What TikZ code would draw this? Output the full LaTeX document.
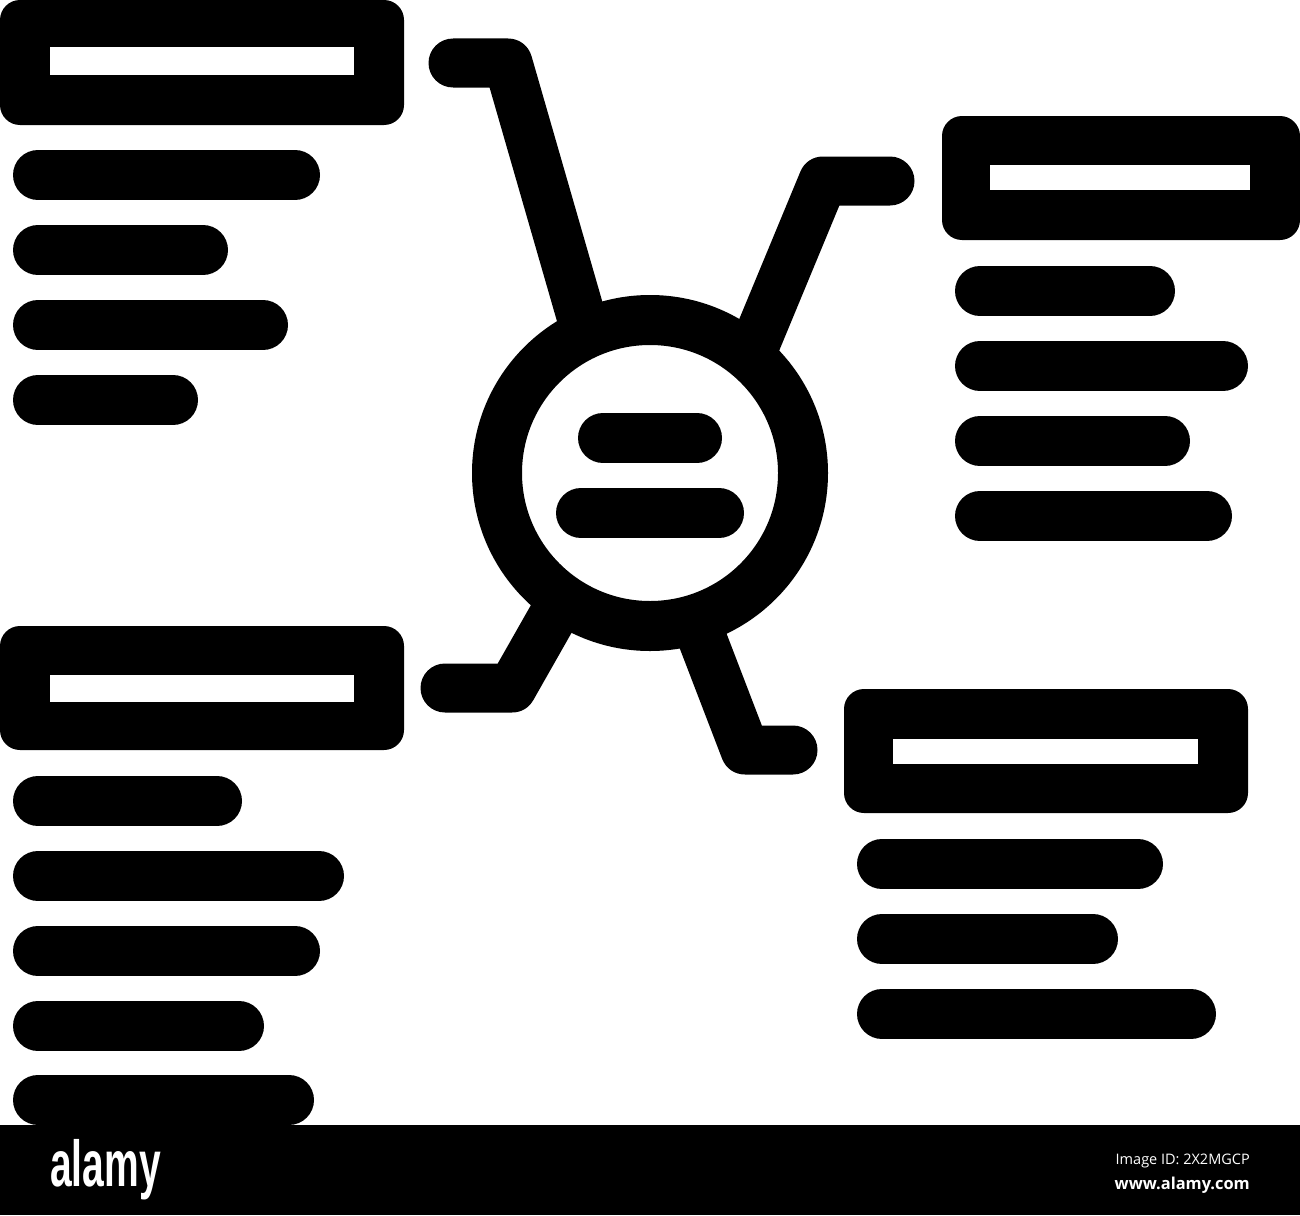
\documentclass[tikz,border=0pt]{standalone}
\usepackage{fontspec}
\usepackage{tikz}
\newfontfamily\logofont{Liberation Sans}
\newfontfamily\idfont{Open Sans}

\begin{document}
\begin{tikzpicture}[x=1pt,y=-1pt,
  bar/.style={line width=50pt,line cap=round},
  link/.style={line width=49pt,line cap=round,line join=round}]
\useasboundingbox (0,0) rectangle (1300,1215);
% boxes
\fill[rounded corners=20pt] (0,0) rectangle (404,125);
\fill[white] (50,47) rectangle (354,75);
\fill[rounded corners=20pt] (942,116) rectangle (1300,240);
\fill[white] (990,165) rectangle (1250,190);
\fill[rounded corners=20pt] (0,626) rectangle (404,750);
\fill[white] (50,675) rectangle (354,702);
\fill[rounded corners=20pt] (844,689) rectangle (1248,813);
\fill[white] (893,739) rectangle (1198,764);
% text lines
\draw[bar] (38,175) -- (295,175);
\draw[bar] (38,250) -- (203,250);
\draw[bar] (38,325) -- (263,325);
\draw[bar] (38,400) -- (173,400);
\draw[bar] (980,291) -- (1150,291);
\draw[bar] (980,366) -- (1223,366);
\draw[bar] (980,441) -- (1165,441);
\draw[bar] (980,516) -- (1207,516);
\draw[bar] (38,801) -- (217,801);
\draw[bar] (38,876) -- (319,876);
\draw[bar] (38,951) -- (295,951);
\draw[bar] (38,1026) -- (239,1026);
\draw[bar] (38,1100) -- (289,1100);
\draw[bar] (882,864) -- (1138,864);
\draw[bar] (882,939) -- (1093,939);
\draw[bar] (882,1014) -- (1191,1014);
% links to the hub
\draw[link] (453,63) -- (508,63) -- (585,330);
\draw[link] (890,181) -- (823,181) -- (755,345);
\draw[link] (445,688) -- (512,688) -- (562,600);
\draw[link] (793,750) -- (745,750) -- (697,625);
% hub
\draw[line width=50pt,fill=white] (650,473) circle[radius=153];
\draw[bar] (603,438) -- (697,438);
\draw[bar] (581,513) -- (719,513);
% footer band
\fill (0,1125) rectangle (1300,1215);
\node[white,anchor=base west,xscale=0.6,inner sep=0pt] (logo) at (50,1186)
  {\logofont\bfseries\fontsize{65}{65}\selectfont alamy};
\node[white,anchor=base east,inner sep=0pt] (imageid) at (1250,1164)
  {\idfont\fontsize{14.5}{14.5}\selectfont Image ID: 2X2MGCP};
\node[white,anchor=base east,inner sep=0pt] (site) at (1250,1189)
  {\idfont\bfseries\fontsize{16.4}{16.4}\selectfont www.alamy.com};
\end{tikzpicture}
\end{document}
